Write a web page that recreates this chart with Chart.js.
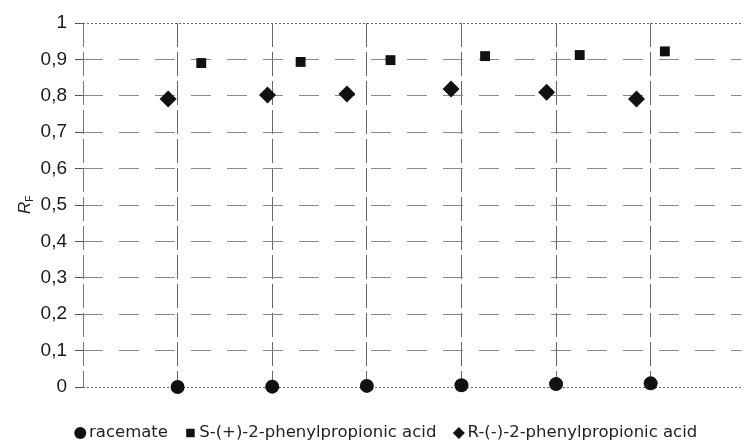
<!DOCTYPE html>
<html>
<head>
<meta charset="utf-8">
<script src="https://cdn.jsdelivr.net/npm/chart.js@4.4.0/dist/chart.umd.min.js"></script>
<style>
html, body { margin: 0; padding: 0; background: #fff; }
#wrap { width: 750px; height: 441px; position: relative; }
</style>
</head>
<body>
<div id="wrap"><canvas id="rfChart"></canvas></div>
<script>
// R_F values, six runs per compound
const seriesNames = ['racemate', 'S-(+)-2-phenylpropionic acid', 'R-(-)-2-phenylpropionic acid'];
const racemateX = [1, 2, 3, 4, 5, 6];
const racemateRf = [0, 0.001, 0.003, 0.005, 0.008, 0.01];
const sAcidX = [1.25, 2.3, 3.25, 4.25, 5.25, 6.15];
const sAcidRf = [0.89, 0.893, 0.898, 0.909, 0.912, 0.922];
const rAcidX = [0.9, 1.95, 2.79, 3.89, 4.9, 5.85];
const rAcidRf = [0.791, 0.802, 0.805, 0.819, 0.81, 0.791];
const yTickValues = [0, 0.1, 0.2, 0.3, 0.4, 0.5, 0.6, 0.7, 0.8, 0.9, 1];
const yTickLabels = ['0', '0,1', '0,2', '0,3', '0,4', '0,5', '0,6', '0,7', '0,8', '0,9', '1'];

const toPoints = (xs, ys) => xs.map((x, i) => ({ x: x, y: ys[i] }));
const markColor = '#111';

// axis title R with subscript F
const rfTitlePlugin = {
	id: 'rfTitle',
	afterDraw(chart) {
		const ctx = chart.ctx;
		ctx.save();
		ctx.translate(24, 206);
		ctx.rotate(-Math.PI / 2);
		ctx.fillStyle = '#222';
		ctx.textBaseline = 'alphabetic';
		ctx.font = 'italic 17px "Liberation Sans", Arial, sans-serif';
		ctx.fillText('R', -8, 6);
		ctx.font = '11px "Liberation Sans", Arial, sans-serif';
		ctx.fillText('F', 4, 9);
		ctx.restore();
	}
};

function rfChartConfig() {
	const canvas = document.getElementById('rfChart');
	if (!canvas) return;
	const ctx = canvas.getContext('2d');

	new Chart(ctx, {
		type: 'scatter',
		data: {
			datasets: [{
				label: seriesNames[0],
				data: toPoints(racemateX, racemateRf),
				pointStyle: 'circle',
				pointRadius: 7,
				backgroundColor: markColor,
				borderColor: markColor,
				borderWidth: 0,
				clip: false
			},
			{
				label: seriesNames[1],
				data: toPoints(sAcidX, sAcidRf),
				pointStyle: 'rect',
				pointRadius: 7,
				backgroundColor: markColor,
				borderColor: markColor,
				borderWidth: 0,
				clip: false
			},
			{
				label: seriesNames[2],
				data: toPoints(rAcidX, rAcidRf),
				pointStyle: 'rectRot',
				pointRadius: 8.5,
				backgroundColor: markColor,
				borderColor: markColor,
				borderWidth: 0,
				clip: false
			}]
		},
		options: {
			responsive: true,
			maintainAspectRatio: false,
			animation: false,
			layout: {
				padding: { top: 23, left: 27, right: 0, bottom: -10.25 }
			},
			plugins: {
				legend: {
					display: true,
					position: 'bottom',
					labels: {
						usePointStyle: true,
						boxWidth: 1,
						boxHeight: 8.5,
						padding: 22,
						color: '#222',
						font: { size: 16.5, family: '"DejaVu Sans", sans-serif' }
					}
				},
				tooltip: { enabled: false }
			},
			scales: {
				x: {
					type: 'linear',
					min: 0,
					max: 6.96,
					ticks: { display: false, stepSize: 1 },
					border: {
						display: false,
						dash: [24, 5]
					},
					grid: {
						drawTicks: false,
						lineWidth: 1,
						color: c => Number.isInteger(c.tick.value) ? (c.tick.value === 0 ? '#777' : '#666') : 'rgba(0,0,0,0)'
					},
					afterFit: scale => { scale.height = 15.75; }
				},
				y: {
					min: 0,
					max: 1,
					afterBuildTicks: scale => { scale.ticks = yTickValues.map(v => ({ value: v })); },
					ticks: {
						color: '#1a1a1a',
						padding: 8,
						font: { size: 19, family: '"Liberation Sans", Arial, sans-serif' },
						callback: (value, index) => yTickLabels[index]
					},
					border: {
						display: false,
						dash: c => (c.tick && (c.tick.value === 0 || c.tick.value === 1)) ? [2, 2] : [20, 16]
					},
					grid: {
						drawTicks: true,
						tickLength: 8,
						tickColor: '#555',
						tickBorderDash: [],
						lineWidth: 1,
						color: c => (c.tick.value === 0 || c.tick.value === 1) ? '#666' : '#8a8a8a'
					},
					afterFit: scale => { scale.width = 56; }
				}
			}
		},
		plugins: [rfTitlePlugin]
	});
}
document.addEventListener('DOMContentLoaded', rfChartConfig);
</script>
</body>
</html>
